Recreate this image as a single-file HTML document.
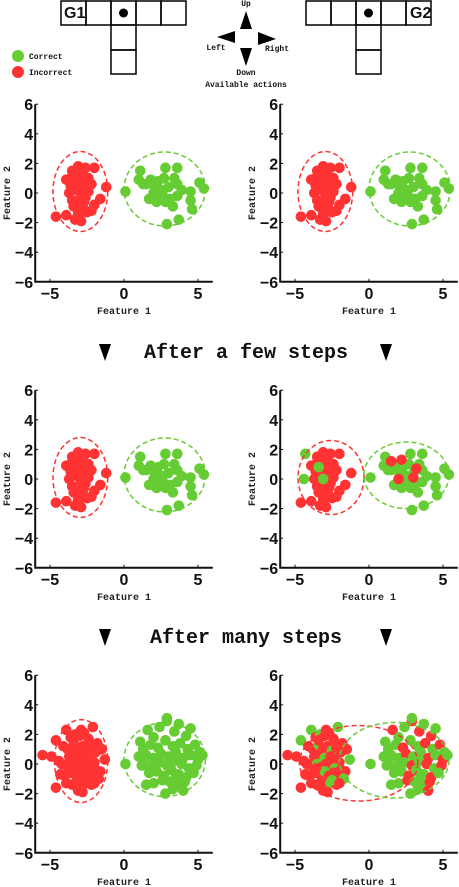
<!DOCTYPE html>
<html><head><meta charset="utf-8">
<style>
html,body{margin:0;padding:0;background:#fff;}
svg{display:block;}
.tk{font-family:"Liberation Sans",sans-serif;font-weight:bold;font-size:16px;fill:#111;}
.ax{font-family:"Liberation Mono",monospace;font-weight:bold;font-size:10px;fill:#222;}
.hd{font-family:"Liberation Mono",monospace;font-weight:bold;font-size:20px;fill:#111;}
.sm{font-family:"Liberation Mono",monospace;font-weight:bold;font-size:8px;fill:#111;}
</style></head>
<body>
<svg id="fig" width="459" height="887" viewBox="0 0 459 887">
 <g fill="none" stroke="#000" stroke-width="1.5">
  <rect x="61" y="1" width="25" height="24"/><rect x="86" y="1" width="25" height="24"/><rect x="111" y="1" width="25" height="24"/><rect x="136" y="1" width="25" height="24"/><rect x="161" y="1" width="25" height="24"/>
  <rect x="111" y="25" width="25" height="25"/><rect x="111" y="50" width="25" height="24"/>
 </g>
 <text x="64" y="18" class="tk" font-size="12">G1</text>
 <circle cx="123.5" cy="13" r="4.5" fill="#000"/>
 <g fill="none" stroke="#000" stroke-width="1.5">
  <rect x="306" y="1" width="25" height="24"/><rect x="331" y="1" width="25" height="24"/><rect x="356" y="1" width="25" height="24"/><rect x="381" y="1" width="25" height="24"/><rect x="406" y="1" width="25" height="24"/>
  <rect x="356" y="25" width="25" height="25"/><rect x="356" y="50" width="25" height="24"/>
 </g>
 <text x="410" y="18" class="tk" font-size="12">G2</text>
 <circle cx="368.5" cy="13" r="4.5" fill="#000"/>
 <g fill="#000">
  <polygon points="246,11 240,29 252,29"/>
  <polygon points="246,66 240,48 252,48"/>
  <polygon points="217,37 235,31 235,43"/>
  <polygon points="276,39 258,32 258,45"/>
  <circle cx="246" cy="38" r="9" fill="#fff"/>
 </g>
 <text x="246" y="6" text-anchor="middle" class="sm" font-size="7">Up</text>
 <text x="216" y="50" text-anchor="middle" class="sm" font-size="7">Left</text>
 <text x="277" y="51" text-anchor="middle" class="sm" font-size="7">Right</text>
 <text x="246" y="75" text-anchor="middle" class="sm" font-size="7">Down</text>
 <text x="246" y="87" text-anchor="middle" class="sm" font-size="9.5">Available actions</text>
 <circle cx="18" cy="56" r="6" fill="#66cc33"/>
 <text x="29" y="59" class="sm">Correct</text>
 <circle cx="18" cy="72" r="6" fill="#ff3333"/>
 <text x="29" y="75" class="sm">Incorrect</text>

 <polygon points="99,344 111,344 105,361" fill="#000"/>
 <polygon points="380,344 392,344 386,361" fill="#000"/>
 <text x="246" y="358" text-anchor="middle" class="hd">After a few steps</text>
 <polygon points="99,629 111,629 105,646" fill="#000"/>
 <polygon points="380,629 392,629 386,646" fill="#000"/>
 <text x="246" y="643" text-anchor="middle" class="hd">After many steps</text>
</svg>
<script>
// Row 1 clusters (data units)
const redX1 = [-3.5,-3.1,-2.6,-2.0,-3.3,-2.8,-2.4,-3.6,-3.0,-2.6,-2.2,-3.7,-3.2,-2.8,-2.4,-1.2,-3.5,-3.0,-2.6,-1.6,-3.4,-2.8,-2.0,-4.6,-3.9,-3.1,-2.5,-2.9,-3.3,-3.9,-2.2,-3.6,-3.2,-2.7];
const redY1 = [1.5,1.8,1.7,1.7,1.1,1.2,1.0,0.5,0.7,0.5,0.6,0.0,0.2,0.0,0.1,0.4,-0.5,-0.4,-0.3,-0.4,-0.9,-0.9,-0.8,-1.6,-1.5,-1.4,-1.3,-1.9,-1.8,0.9,-1.2,1.0,1.4,-0.6];
const greenX1 = [0.1,1.1,1.0,1.5,1.8,2.3,2.7,2.8,3.6,3.4,2.1,2.5,3.0,3.6,1.7,2.2,2.6,3.1,3.3,3.6,4.5,4.5,4.6,5.1,5.4,3.7,2.9,2.0,3.9,2.4,1.3,2.8];
const greenY1 = [0.1,1.5,0.9,0.6,0.9,0.8,1.0,1.7,1.7,1.0,0.3,0.2,0.4,0.6,-0.4,-0.6,-0.1,-0.4,-0.9,-0.2,0.1,-0.5,-1.1,0.7,0.3,-1.8,-2.1,0.0,0.2,-0.3,0.6,-0.6];
// Row 2 right: flipped points
const wrongInRedX = [-4.3,-3.4,-4.4,-3.1];
const wrongInRedY = [1.7,0.8,0.0,0.0];
const wrongInGreenX = [1.5,2.2,3.2,2.0,3.0];
const wrongInGreenY = [1.2,1.3,0.7,0.0,0.1];
// Row 3 clusters
const redX3 = [-5.5,-4.9,-4.4,-4.6,-4.1,-3.9,-3.6,-3.3,-3.0,-2.7,-2.4,-2.1,-1.8,-1.5,-1.3,-1.6,-3.8,-3.4,-3.1,-2.8,-2.5,-2.2,-1.9,-3.7,-3.3,-3.0,-2.6,-2.3,-2.0,-4.2,-3.9,-3.5,-3.2,-2.9,-2.6,-2.3,-1.9,-4.0,-3.6,-3.3,-3.0,-2.7,-2.4,-2.1,-1.7,-4.6,-3.9,-3.5,-3.2,-2.9,-2.6,-2.2,-3.6,-3.1,-2.8,-2.5,-4.3,-2.0,-3.4,-2.9];
const redY3 = [0.6,0.5,0.2,1.6,1.2,2.3,1.8,2.0,1.9,2.1,1.7,2.5,1.4,1.0,0.3,-0.5,1.0,1.3,1.0,1.2,0.9,1.1,0.8,0.5,0.6,0.4,0.5,0.3,0.1,0.0,-0.1,0.0,-0.2,0.0,-0.1,-0.3,-0.4,-0.8,-0.6,-0.7,-0.5,-0.8,-0.6,-0.9,-1.0,-1.6,-1.3,-1.4,-1.2,-1.5,-1.3,-1.4,-0.3,-1.8,-1.9,-1.1,-0.7,-1.3,1.6,2.3];
const greenX3 = [0.1,1.1,1.6,2.0,2.4,2.9,3.4,3.7,4.2,4.5,1.3,1.8,2.3,2.8,3.3,3.8,4.3,4.8,5.1,1.0,1.5,2.0,2.5,3.0,3.5,4.0,4.5,5.0,5.3,1.4,1.9,2.4,2.9,3.4,3.9,4.4,4.9,1.7,2.2,2.7,3.2,3.7,4.2,4.7,1.5,2.0,2.6,3.1,3.6,4.1,2.8,3.3,4.0,2.9,1.2,3.5];
const greenY3 = [0.0,1.5,2.3,1.8,2.5,2.9,2.2,2.7,1.9,2.4,1.0,1.3,1.1,1.6,1.2,1.4,1.0,1.3,0.8,0.5,0.6,0.4,0.7,0.5,0.8,0.4,0.6,0.3,0.6,0.0,-0.2,0.1,-0.1,0.2,0.0,-0.3,-0.1,-0.6,-0.5,-0.8,-0.4,-0.7,-0.9,-0.6,-1.4,-1.3,-1.1,-1.2,-1.5,-1.2,-2.0,-1.7,-1.8,3.1,-0.1,-0.9];
// Row 3 right: indices of points in each cluster that appear with the other colour
const redClusterGreenIdx = [3,5,7,11,14,17,20,25,31,35,40,44,50,55];
const greenClusterRedIdx = [2,5,6,8,12,15,17,22,25,27,32,34,36,39,42,46,49,52];
// Ellipses [cx, cy, rx, ry]
const ell = {
 r1L:{red:[-2.95,0.1,1.85,2.7],green:[2.75,0.27,2.75,2.5]},
 r2R:{red:[-2.57,0.1,2.23,2.5],green:[2.53,0.25,2.87,2.25]},
 r3L:{red:[-2.9,0.2,1.8,2.8],green:[2.75,0.3,2.75,2.5]},
 r3R:{red:[-0.7,0.05,4.0,2.55],green:[1.7,0.25,3.7,2.55]}
};
const yTicks = [6,4,2,0,-2,-4,-6];
const xTicks = [-5,0,5];

const NS = "http://www.w3.org/2000/svg";
const svg = document.getElementById('fig');
const S = 14.8, RED = "#ff3333", GREEN = "#66cc33";
function mk(tag, attrs, parent){const e=document.createElementNS(NS,tag);for(const k in attrs)e.setAttribute(k,attrs[k]);(parent||svg).appendChild(e);return e;}

function panel(name, ox, oy, rightEdge){
  const g = mk('g',{});
  
  
  const px = x => ox + x*S, py = y => oy - y*S;
  const yAxisX = px(-6);
  const ax = mk('path',{d:`M${yAxisX} ${py(6)} V${py(-6)} H${Math.min(px(6),rightEdge)}`,stroke:'#111','stroke-width':2,fill:'none'},g);
  
  
  yTicks.forEach(v=>{
    mk('line',{x1:yAxisX,x2:yAxisX+3,y1:py(v),y2:py(v),stroke:'#111','stroke-width':1},g);
    const t = mk('text',{x:yAxisX-2,y:py(v)+6,'text-anchor':'end',class:'tk'},g);
    t.textContent = (v<0?'\u2212':'')+Math.abs(v);
    
    
  });
  xTicks.forEach(v=>{
    mk('line',{x1:px(v),x2:px(v),y1:py(-6),y2:py(-6)-3,stroke:'#111','stroke-width':1},g);
    const t = mk('text',{x:px(v),y:py(-6)+17,'text-anchor':'middle',class:'tk'},g);
    t.textContent = (v<0?'\u2212':'')+Math.abs(v);
    
    
  });
  const xl = mk('text',{x:px(0),y:py(-6)+32,'text-anchor':'middle',class:'ax'},g);
  xl.textContent='Feature 1';
  
  
  const yx = yAxisX-25, yy = py(0);
  const yl = mk('text',{x:yx,y:yy,'text-anchor':'middle',class:'ax',transform:`rotate(-90 ${yx} ${yy})`},g);
  yl.textContent='Feature 2';
  
  
  return {g,px,py};
}
function dots(p, xs, ys, color, name){
  xs.forEach((x,i)=>{
    const c = mk('circle',{cx:p.px(x),cy:p.py(ys[i]),r:5.3,fill:color},p.g);
    
    
  });
}
function ellipse(p, e, color, name){
  const el = mk('ellipse',{cx:p.px(e[0]),cy:p.py(e[1]),rx:e[2]*S,ry:e[3]*S,fill:'none',stroke:color,'stroke-width':1.5,'stroke-dasharray':'5 3'},p.g);
  
  
}

const LX = 124, RX = 369, Y1 = 193, Y2 = 479, Y3 = 764;
[[LX,'row1-left'],[RX,'row1-right']].forEach(([ox,n])=>{
  const p = panel(n+'-scatter', ox, Y1, 459);
  dots(p, redX1, redY1, RED, 'point-incorrect');
  dots(p, greenX1, greenY1, GREEN, 'point-correct');
  ellipse(p, ell.r1L.red, RED, 'red-ellipse');
  ellipse(p, ell.r1L.green, GREEN, 'green-ellipse');
});
{const p = panel('row2-left-scatter', LX, Y2, 459);
 dots(p, redX1, redY1, RED, 'point-incorrect');
 dots(p, greenX1, greenY1, GREEN, 'point-correct');
 ellipse(p, ell.r1L.red, RED, 'red-ellipse');
 ellipse(p, ell.r1L.green, GREEN, 'green-ellipse');}
{const p = panel('row2-right-scatter', RX, Y2, 459);
 dots(p, redX1, redY1, RED, 'point-incorrect');
 dots(p, greenX1, greenY1, GREEN, 'point-correct');
 dots(p, wrongInRedX, wrongInRedY, GREEN, 'point-correct');
 dots(p, wrongInGreenX, wrongInGreenY, RED, 'point-incorrect');
 ellipse(p, ell.r2R.red, RED, 'red-ellipse');
 ellipse(p, ell.r2R.green, GREEN, 'green-ellipse');}
{const p = panel('row3-left-scatter', LX, Y3, 459);
 dots(p, redX3, redY3, RED, 'point-incorrect');
 dots(p, greenX3, greenY3, GREEN, 'point-correct');
 ellipse(p, ell.r3L.red, RED, 'red-ellipse');
 ellipse(p, ell.r3L.green, GREEN, 'green-ellipse');}
{const p = panel('row3-right-scatter', RX, Y3, 459);
 redX3.forEach((x,i)=>{
   const g = redClusterGreenIdx.includes(i);
   dots(p,[x],[redY3[i]], g?GREEN:RED, g?'point-correct':'point-incorrect');
 });
 greenX3.forEach((x,i)=>{
   const r = greenClusterRedIdx.includes(i);
   dots(p,[x],[greenY3[i]], r?RED:GREEN, r?'point-incorrect':'point-correct');
 });
 ellipse(p, ell.r3R.red, RED, 'red-ellipse');
 ellipse(p, ell.r3R.green, GREEN, 'green-ellipse');}
</script>
</body></html>
